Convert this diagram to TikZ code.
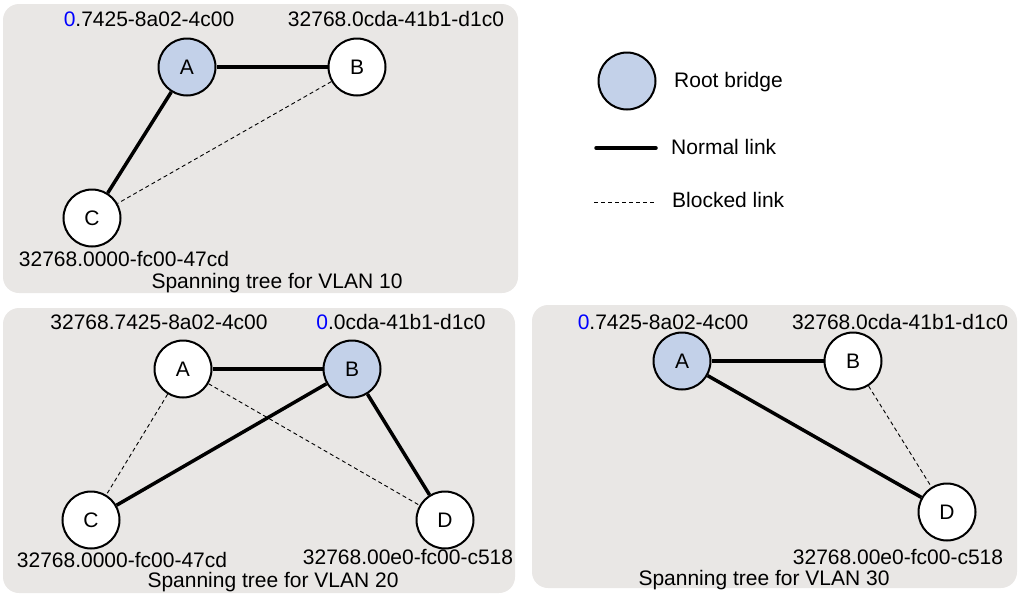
\documentclass[tikz,border=0pt]{standalone}
\usepackage{fontspec}
\setmainfont{Liberation Sans}
\usepackage{xcolor}
\definecolor{panelgray}{HTML}{E9E7E5}
\definecolor{rootblue}{HTML}{C3D1E9}

\begin{document}
\begin{tikzpicture}[x=1pt,y=-1pt,
    every node/.style={font=\fontsize{21}{25}\selectfont},
    bridge/.style={circle,draw,line width=2pt,fill=white,minimum size=57pt,inner sep=0pt},
    rootbridge/.style={bridge,fill=rootblue},
    normallink/.style={line width=3.5pt},
    blockedlink/.style={line width=0.9pt,dash pattern=on 4pt off 3pt},
    panel/.style={fill=panelgray,rounded corners=16pt},
    bid/.style={anchor=base,inner sep=0pt}]
    \useasboundingbox (0,0) rectangle (1020,598);

    % Spanning tree for VLAN 10
    \fill[panel] (3,4) rectangle (518,293);
    \node[rootbridge] (a1) at (187,67) {A};
    \node[bridge] (b1) at (357,67) {B};
    \node[bridge] (c1) at (92,218) {C};
    \draw[normallink] (a1) -- (b1);
    \draw[normallink] (a1) -- (c1);
    \draw[blockedlink] (b1) -- (c1);
    \node[bid] (ida1) at (149,26) {{\color{blue}0}.7425-8a02-4c00};
    \node[bid] (idb1) at (396,26) {32768.0cda-41b1-d1c0};
    \node[bid] (idc1) at (124,266) {32768.0000-fc00-47cd};
    \node[bid] (title1) at (277,288) {Spanning tree for VLAN 10};

    % Legend
    \node[rootbridge] (legroot) at (627,81) {};
    \node[anchor=base west,inner sep=0pt] (legroottxt) at (674,87) {Root bridge};
    \coordinate (normalstart) at (596,148);
    \coordinate (normalend) at (656,148);
    \draw[normallink,line cap=round] (normalstart) -- (normalend);
    \node[anchor=base west,inner sep=0pt] (legnormaltxt) at (671,154) {Normal link};
    \coordinate (blockedstart) at (594,202);
    \coordinate (blockedend) at (656,202);
    \draw[blockedlink] (blockedstart) -- (blockedend);
    \node[anchor=base west,inner sep=0pt] (legblockedtxt) at (672,207) {Blocked link};

    % Spanning tree for VLAN 20
    \fill[panel] (3,308) rectangle (515,593);
    \node[bridge] (a2) at (183,369) {A};
    \node[rootbridge] (b2) at (352,369) {B};
    \node[bridge] (c2) at (91,520) {C};
    \node[bridge] (d2) at (445,520) {D};
    \draw[normallink] (a2) -- (b2);
    \draw[normallink] (b2) -- (c2);
    \draw[normallink] (b2) -- (d2);
    \draw[blockedlink] (a2) -- (c2);
    \draw[blockedlink] (a2) -- (d2);
    \node[bid] (ida2) at (159,329) {32768.7425-8a02-4c00};
    \node[bid] (idb2) at (401,329) {{\color{blue}0}.0cda-41b1-d1c0};
    \node[bid] (idc2) at (122,567) {32768.0000-fc00-47cd};
    \node[bid] (idd2) at (408,564) {32768.00e0-fc00-c518};
    \node[bid] (title2) at (273,587) {Spanning tree for VLAN 20};

    % Spanning tree for VLAN 30
    \fill[panel] (532,305) rectangle (1017,588);
    \node[rootbridge] (a3) at (682,361) {A};
    \node[bridge] (b3) at (853,361) {B};
    \node[bridge] (d3) at (947,512) {D};
    \draw[normallink] (a3) -- (b3);
    \draw[normallink] (a3) -- (d3);
    \draw[blockedlink] (b3) -- (d3);
    \node[bid] (ida3) at (663,329) {{\color{blue}0}.7425-8a02-4c00};
    \node[bid] (idb3) at (900,329) {32768.0cda-41b1-d1c0};
    \node[bid] (idd3) at (898,564) {32768.00e0-fc00-c518};
    \node[bid] (title3) at (764,585) {Spanning tree for VLAN 30};
\end{tikzpicture}
\end{document}
